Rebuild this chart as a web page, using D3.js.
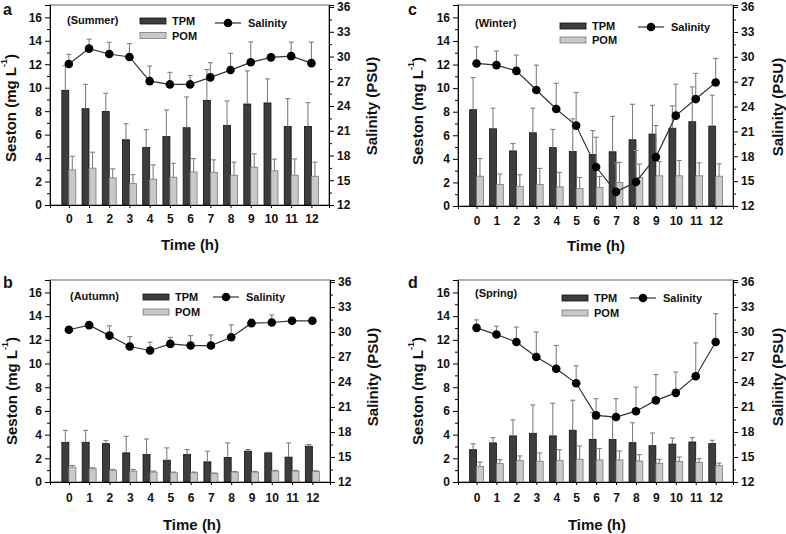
<!DOCTYPE html>
<html><head><meta charset="utf-8">
<script src="https://cdn.jsdelivr.net/npm/d3@7/dist/d3.min.js"></script>
<style>
body{margin:0;background:#fff}
svg{display:block}
text{font-family:"Liberation Sans",Arial,sans-serif;font-weight:bold;fill:#111}
</style></head>
<body>
<svg id="chart" width="786" height="534"></svg>
<script>
// ---------- data ----------
const hours = [0,1,2,3,4,5,6,7,8,9,10,11,12];
const sestonTicks = [0,2,4,6,8,10,12,14,16];
const salinityTicks = [12,15,18,21,24,27,30,33,36];

// Summer (a)
const tpmSummer    = [9.78,8.21,7.98,5.56,4.90,5.85,6.59,8.92,6.79,8.61,8.70,6.70,6.70];
const tpmSummerErr = [2.10,2.08,1.54,1.37,1.52,2.25,2.62,2.63,2.08,2.82,2.05,2.37,2.03];
const pomSummer    = [2.99,3.14,2.31,1.82,2.20,2.37,2.82,2.79,2.54,3.22,2.91,2.54,2.45];
const pomSummerErr = [1.17,1.36,0.77,0.77,1.22,1.19,1.14,1.06,1.11,1.14,1.00,1.39,1.20];
const salSummer    = [29.09,30.96,30.31,29.95,27.02,26.62,26.62,27.47,28.36,29.30,29.90,30.05,29.20];
const salSummerErr = [1.18,1.14,1.42,1.62,1.83,1.46,1.09,1.79,2.03,2.47,0.30,1.70,2.55];

// Autumn (b)
const tpmAutumn    = [3.35,3.35,3.24,2.46,2.32,1.84,2.32,1.70,2.07,2.60,2.46,2.10,3.02];
const tpmAutumnErr = [1.01,1.01,0.25,1.39,1.31,1.04,0.42,0.90,1.23,0.14,0.05,1.20,0.14];
const pomAutumn    = [1.26,1.12,1.00,0.92,0.84,0.78,0.78,0.73,0.84,0.84,0.92,0.92,0.89];
const pomAutumnErr = [0.14,0.08,0.06,0.14,0.08,0.06,0.06,0.03,0.05,0.05,0.06,0.06,0.06];
const salAutumn    = [30.28,30.83,29.57,28.27,27.79,28.58,28.38,28.38,29.37,31.07,31.15,31.35,31.35];
const salAutumnErr = [0.32,0.37,1.18,1.18,0.99,0.79,1.19,1.27,1.50,0.47,0.91,0,0];

// Winter (c)
const tpmWinter    = [8.17,6.55,4.67,6.21,4.95,4.62,4.36,4.60,5.62,6.10,6.60,7.15,6.78];
const tpmWinterErr = [2.73,1.75,0.63,2.09,1.55,2.78,2.04,3.00,3.01,2.44,1.89,2.95,2.62];
const pomWinter    = [2.53,1.82,1.65,1.82,1.62,1.48,1.57,2.00,2.42,2.56,2.56,2.56,2.53];
const pomWinterErr = [1.50,0.90,1.00,1.37,1.23,0.94,0.94,1.70,1.14,1.20,1.30,1.10,1.05];
const salWinter    = [29.2,29.0,28.3,26.0,23.7,21.7,16.7,13.7,14.9,17.9,22.9,24.9,26.9];
const salWinterErr = [2.0,1.7,1.9,3.0,3.1,4.0,3.6,3.5,3.8,3.8,3.8,3.1,2.9];

// Spring (d)
const tpmSpring    = [2.73,3.30,3.89,4.11,3.89,4.37,3.60,3.58,3.32,3.07,3.20,3.38,3.24];
const tpmSpringErr = [0.50,0.45,1.36,2.39,2.76,2.53,2.26,1.90,1.68,1.07,0.52,0.37,0.28];
const pomSpring    = [1.32,1.55,1.80,1.75,1.80,1.92,1.86,1.86,1.77,1.58,1.72,1.66,1.38];
const pomSpringErr = [0.37,0.34,0.40,0.70,0.93,1.12,0.96,0.76,0.54,0.34,0.39,0.31,0.22];
const salSpring    = [30.5,29.7,28.8,27.0,25.6,23.85,20.0,19.8,20.5,21.8,22.7,24.7,28.8];
const salSpringErr = [0.96,1.0,1.8,3.0,2.8,2.1,2.0,2.2,2.9,3.1,2.5,4.0,3.4];

// ---------- layout ----------
const panels = [
  {letter:"a", season:"(Summer)", tpm:tpmSummer, tpmErr:tpmSummerErr, pom:pomSummer, pomErr:pomSummerErr, sal:salSummer, salErr:salSummerErr,
   L:50, R:329, T:5, B:205, letterX:3, letterY:15, seasonX:67, seasonY:20, swX:140, tpmY:21, pomY:35.5, salLX:215, salY:23,
   ylabX:10, ylabY:108, y2labX:371, y2labY:106, xlabX:190, xlabY:250, xtickY:223},
  {letter:"c", season:"(Winter)", tpm:tpmWinter, tpmErr:tpmWinterErr, pom:pomWinter, pomErr:pomWinterErr, sal:salWinter, salErr:salWinterErr,
   L:458, R:733, T:5, B:206, letterX:408, letterY:15, seasonX:475, seasonY:23, swX:560, tpmY:26, pomY:40, salLX:638, salY:27,
   ylabX:417, ylabY:111, y2labX:777, y2labY:107, xlabX:596, xlabY:251, xtickY:225},
  {letter:"b", season:"(Autumn)", tpm:tpmAutumn, tpmErr:tpmAutumnErr, pom:pomAutumn, pomErr:pomAutumnErr, sal:salAutumn, salErr:salAutumnErr,
   L:50, R:330, T:280, B:482, letterX:3, letterY:288, seasonX:70, seasonY:296, swX:143, tpmY:297, pomY:312, salLX:213, salY:297,
   ylabX:11, ylabY:391, y2labX:372, y2labY:377, xlabX:192, xlabY:530, xtickY:502},
  {letter:"d", season:"(Spring)", tpm:tpmSpring, tpmErr:tpmSpringErr, pom:pomSpring, pomErr:pomSpringErr, sal:salSpring, salErr:salSpringErr,
   L:458, R:733, T:280, B:482, letterX:408, letterY:288, seasonX:475, seasonY:293, swX:562, tpmY:298, pomY:313, salLX:630, salY:298,
   ylabX:417, ylabY:391, y2labX:777, y2labY:377, xlabX:597, xlabY:530, xtickY:502}
];

const svg = d3.select("#chart");
const TPM_FILL="#3d3d3d", POM_FILL="#c9c9c9", ERR="#808080";

panels.forEach(p => {
  const g = svg.append("g");
  const x = d3.scaleLinear().domain([-0.93, 12.87]).range([p.L, p.R]);
  const y = d3.scaleLinear().domain([0, 17.05]).range([p.B, p.T]);
  const y2 = d3.scaleLinear().domain([12, 36.25]).range([p.B, p.T]);
  const step = x(1) - x(0);
  const bw = step * 0.345;

  // frame
  g.append("rect").attr("x",p.L).attr("y",p.T).attr("width",p.R-p.L).attr("height",p.B-p.T)
    .attr("fill","none").attr("stroke","#666").attr("stroke-width",1);

  // TPM bars
  g.selectAll(".tpm").data(hours).join("rect")
    .attr("x", d => x(d) - bw).attr("y", d => y(p.tpm[d]))
    .attr("width", bw).attr("height", d => y(0) - y(p.tpm[d]))
    .attr("fill", TPM_FILL).attr("stroke","#111").attr("stroke-width",0.8);
  // POM bars
  g.selectAll(".pom").data(hours).join("rect")
    .attr("x", d => x(d)).attr("y", d => y(p.pom[d]))
    .attr("width", bw).attr("height", d => y(0) - y(p.pom[d]))
    .attr("fill", POM_FILL).attr("stroke","#777").attr("stroke-width",0.8);

  // error bars helper
  function errBars(cx, top, val, sc) {
    hours.forEach(d => {
      if (top[d] <= 0) return;
      const xc = cx(d), y0 = sc(val[d]), y1 = sc(val[d] + top[d]);
      g.append("line").attr("x1",xc).attr("x2",xc).attr("y1",y0).attr("y2",y1)
        .attr("stroke",ERR).attr("stroke-width",1.1);
      g.append("line").attr("x1",xc-2.5).attr("x2",xc+2.5).attr("y1",y1).attr("y2",y1)
        .attr("stroke",ERR).attr("stroke-width",1.1);
    });
  }
  errBars(d => x(d) - bw/2, p.tpmErr, p.tpm, y);
  errBars(d => x(d) + bw/2, p.pomErr, p.pom, y);
  errBars(d => x(d), p.salErr, p.sal, y2);

  // salinity line + dots
  const line = d3.line().x(d => x(d)).y(d => y2(p.sal[d]));
  g.append("path").datum(hours).attr("d", line).attr("fill","none")
    .attr("stroke","#333").attr("stroke-width",1.2);
  g.selectAll(".dot").data(hours).join("circle")
    .attr("cx", d => x(d)).attr("cy", d => y2(p.sal[d])).attr("r", 4.3).attr("fill","#000");

  // axes
  const axL = g.append("g").attr("transform",`translate(${p.L},0)`)
    .call(d3.axisLeft(y).tickValues(sestonTicks).tickSize(5).tickPadding(3));
  g.append("g").attr("transform",`translate(${p.L},0)`)
    .call(d3.axisLeft(y).tickValues([1,3,5,7,9,11,13,15]).tickSize(3).tickFormat(""));
  const axR = g.append("g").attr("transform",`translate(${p.R},0)`)
    .call(d3.axisRight(y2).tickValues(salinityTicks).tickSize(5).tickPadding(3));
  g.append("g").attr("transform",`translate(${p.R},0)`)
    .call(d3.axisRight(y2).tickValues([13.5,16.5,19.5,22.5,25.5,28.5,31.5,34.5]).tickSize(3).tickFormat(""));
  const axB = g.append("g").attr("transform",`translate(0,${p.B})`)
    .call(d3.axisBottom(x).tickValues(hours).tickSize(3).tickPadding(p.xtickY - p.B - 12).tickFormat(d3.format("d")));
  g.selectAll(".domain").attr("stroke","#000").attr("stroke-width",1);
  g.selectAll(".tick line").attr("stroke","#000");
  [axL, axR, axB].forEach(a => a.selectAll("text")
    .style("font-family",'"Liberation Sans",Arial,sans-serif').style("font-weight","bold")
    .style("font-size","12px").attr("fill","#111"));

  // axis titles
  const yl = g.append("text").attr("transform",`translate(${p.ylabX},${p.ylabY}) rotate(-90)`)
    .attr("text-anchor","middle").attr("dominant-baseline","central").style("font-size","15px");
  yl.append("tspan").text("Seston  (mg L");
  yl.append("tspan").text("-1").attr("dy",-6).style("font-size","9px");
  yl.append("tspan").text(")").attr("dy",6);
  g.append("text").attr("transform",`translate(${p.y2labX},${p.y2labY}) rotate(-90)`)
    .attr("text-anchor","middle").attr("dominant-baseline","central").style("font-size","15px")
    .text("Salinity (PSU)");
  g.append("text").attr("x",p.xlabX).attr("y",p.xlabY).attr("text-anchor","middle")
    .style("font-size","15px").text("Time (h)");

  // panel letter
  g.append("text").attr("x",p.letterX).attr("y",p.letterY).style("font-size","16px").text(p.letter);

  // legend
  g.append("text").attr("x",p.seasonX).attr("y",p.seasonY).attr("dominant-baseline","central")
    .style("font-size","11px").text(p.season);
  g.append("rect").attr("x",p.swX).attr("y",p.tpmY-3).attr("width",26).attr("height",6)
    .attr("fill",TPM_FILL).attr("stroke","#111").attr("stroke-width",0.8);
  g.append("text").attr("x",p.swX+32).attr("y",p.tpmY).attr("dominant-baseline","central")
    .style("font-size","11px").text("TPM");
  g.append("rect").attr("x",p.swX).attr("y",p.pomY-3).attr("width",26).attr("height",6)
    .attr("fill",POM_FILL).attr("stroke","#777").attr("stroke-width",0.8);
  g.append("text").attr("x",p.swX+32).attr("y",p.pomY).attr("dominant-baseline","central")
    .style("font-size","11px").text("POM");
  g.append("line").attr("x1",p.salLX).attr("x2",p.salLX+26).attr("y1",p.salY).attr("y2",p.salY)
    .attr("stroke","#333").attr("stroke-width",1.2);
  g.append("circle").attr("cx",p.salLX+13).attr("cy",p.salY).attr("r",4.3).attr("fill","#000");
  g.append("text").attr("x",p.salLX+33).attr("y",p.salY).attr("dominant-baseline","central")
    .style("font-size","11px").text("Salinity");
});
</script>
</body></html>
